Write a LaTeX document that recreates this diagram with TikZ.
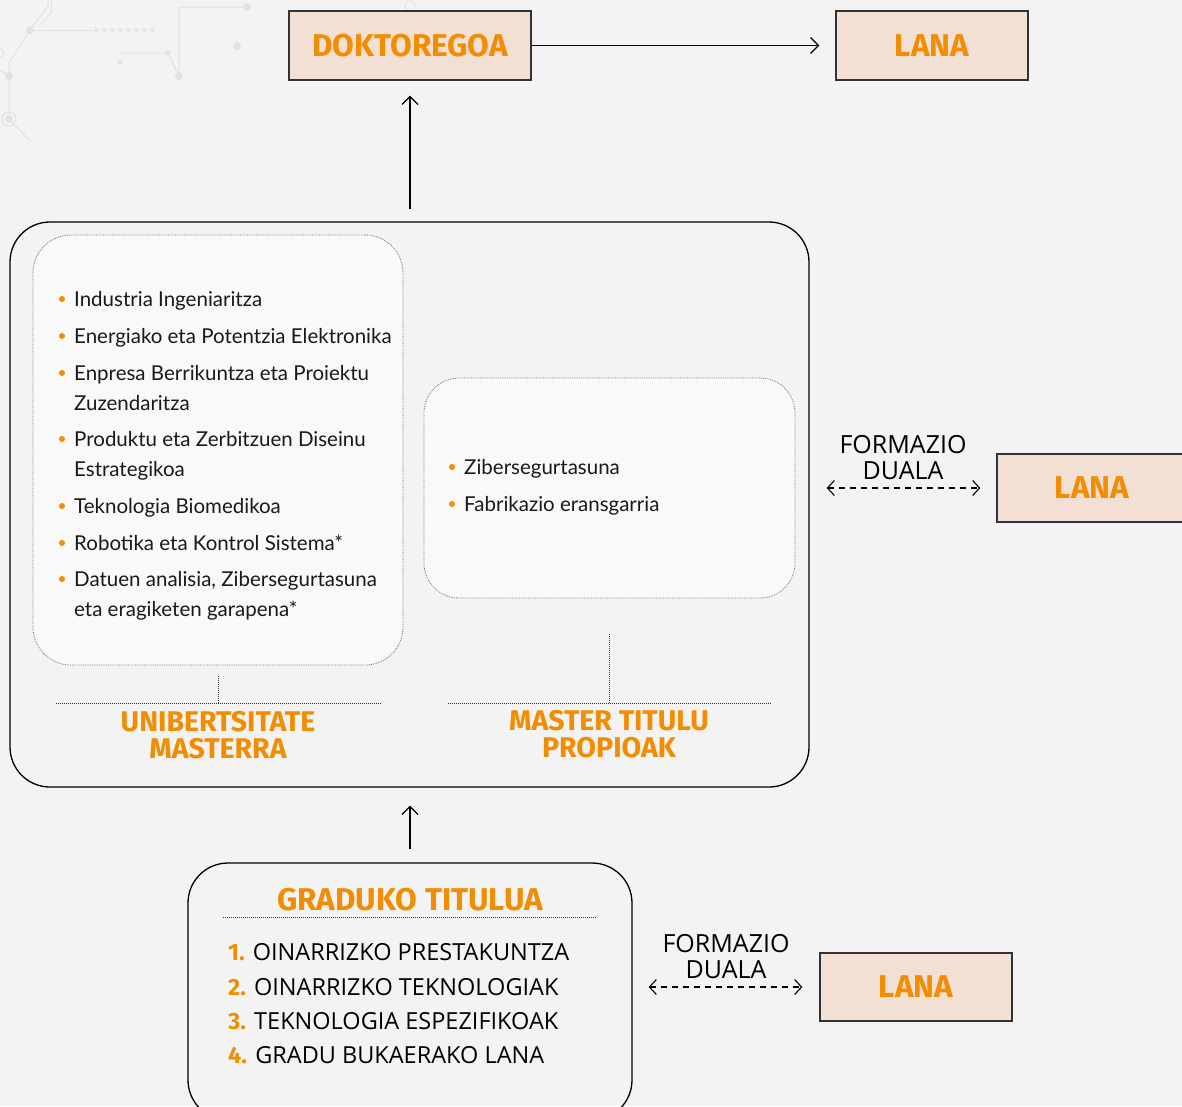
\documentclass[tikz,border=0pt]{standalone}
\usepackage{fontspec}
\setmainfont{Lato}
\newfontfamily\titlefont{Fira Sans}
\newfontfamily\capfont{Open Sans}
\usetikzlibrary{arrows.meta}
\definecolor{bg}{HTML}{F3F3F3}
\definecolor{orng}{HTML}{F28C00}
\definecolor{peach}{HTML}{F2E0D4}
\definecolor{deco}{HTML}{E2E2E2}
\definecolor{innerfill}{HTML}{F9F9F9}
\begin{document}
\begin{tikzpicture}[x=1pt,y=-1pt,
  lanabox/.style={draw=black!80, line width=1.3pt, fill=peach, minimum width=192pt, minimum height=68pt, inner sep=0pt, font=\titlefont\bfseries\fontsize{31.5}{33}\selectfont, text=orng},
  arr/.style={line width=1.2pt, -{Straight Barb[length=8pt,width=16pt,line width=1.2pt]}},
  darr/.style={line width=1.1pt, dash pattern=on 6pt off 5pt, {Straight Barb[length=7pt,width=15pt,line width=1.1pt]}-{Straight Barb[length=7pt,width=15pt,line width=1.1pt]}},
  bigbox/.style={draw=black, line width=1.3pt, rounded corners=40pt, inner sep=0pt},
  innerbox/.style={draw=black!55, densely dotted, line width=0.8pt, fill=innerfill, rounded corners=38pt, inner sep=0pt},
  dotline/.style={draw=black!80, densely dotted, line width=1pt},
  item/.style={anchor=base west, inner sep=0pt, font=\fontsize{20.5}{24}\selectfont, text=black!90},
  bul/.style={circle, fill=orng, inner sep=0pt, minimum size=6pt},
  otitle/.style={align=center, inner sep=0pt, text=orng, font=\titlefont\bfseries\fontsize{28.5}{27}\selectfont},
  dual/.style={align=center, inner sep=0pt, font=\capfont\fontsize{25}{26}\selectfont},
  glist/.style={anchor=base west, inner sep=0pt, font=\capfont\fontsize{23.5}{26}\selectfont},
  decoline/.style={draw=deco, line width=1pt},
  decodot/.style={fill=deco}
]
\useasboundingbox (0,0) rectangle (1182,1106);
\fill[bg] (0,0) rectangle (1182,1106);

% background decoration
\draw[decoline] (51,0) -- (51,13) -- (40,25);
\draw[decoline] (48,0) -- (48,6) -- (30,30) -- (9,63) -- (9,76) -- (9,119) -- (31,142);
\draw[decoline] (0,70) -- (9,76);
\draw[decoline] (30,30) -- (93,30);
\foreach \i in {0,...,7} \fill[deco] (95+8*\i,27) -- (99+8*\i,30) -- (95+8*\i,33) -- cycle;
\fill[decodot] (30,30) circle (4pt);
\fill[decodot] (9,76) circle (4pt);
\draw[decoline] (9,119) circle (7pt);
\fill[decodot] (9,119) circle (4pt);
\draw[decoline] (0,53) circle (4pt);
\draw[decoline] (120,53) -- (168,53) -- (179,76) -- (179,7) -- (247,7);
\fill[decodot] (168,53) circle (2.5pt);
\fill[decodot] (179,76) circle (4pt);
\fill[decodot] (247,7) circle (4pt);
\fill[decodot] (120,62) circle (2.5pt);
\fill[decodot] (237,46) circle (4pt);
\draw[decoline] (410,6) circle (5pt);
\draw[decoline] (406,11) -- (388,28);

% top row
\node[lanabox, minimum width=242pt, minimum height=69pt] (dok) at (410,45.5) {DOKTOREGOA};
\node[lanabox, minimum height=69pt] (lanatop) at (932,45.5) {LANA};
\draw[arr, shorten >=16pt] (dok.east) -- (lanatop.west);

% big box
\node[bigbox, minimum width=799pt, minimum height=565pt] (big) at (409.5,504.5) {};
\draw[arr, shorten <=12pt, shorten >=15pt] (big.north -| dok.south) -- (dok.south);

% inner boxes
\node[innerbox, minimum width=370pt, minimum height=430pt] (leftbox) at (218,450) {};
\node[innerbox, minimum width=371pt, minimum height=220pt, rounded corners=35pt] (rightbox) at (609.5,488) {};

% left list
\node[bul] (b1) at (62,299) {};
\node[item] (t1) at (74,306) {Industria Ingeniaritza};
\node[bul] (b2) at (62,336) {};
\node[item] (t2) at (74,343) {Energiako eta Potentzia Elektronika};
\node[bul] (b3) at (62,373) {};
\node[item] (t3) at (74,380) {Enpresa Berrikuntza eta Proiektu};
\node[item] (t3b) at (74,410) {Zuzendaritza};
\node[bul] (b4) at (62,439) {};
\node[item] (t4) at (74,446) {Produktu eta Zerbitzuen Diseinu};
\node[item] (t4b) at (74,476) {Estrategikoa};
\node[bul] (b5) at (62,506) {};
\node[item] (t5) at (74,513) {Teknologia Biomedikoa};
\node[bul] (b6) at (62,543) {};
\node[item] (t6) at (74,550) {Robotika eta Kontrol Sistema*};
\node[bul] (b7) at (62,579) {};
\node[item] (t7) at (74,586) {Datuen analisia, Zibersegurtasuna};
\node[item] (t7b) at (74,616) {eta eragiketen garapena*};

% right list
\node[bul] (r1) at (452,467) {};
\node[item] (s1) at (464,474) {Zibersegurtasuna};
\node[bul] (r2) at (452,504) {};
\node[item] (s2) at (464,511) {Fabrikazio eransgarria};

% dotted connectors and labels
\coordinate (ul) at (56,703);
\coordinate (ur) at (381,703);
\coordinate (ml) at (448,703);
\coordinate (mr) at (772,703);
\draw[dotline] (ul) -- (ur);
\draw[dotline] (ml) -- (mr);
\draw[dotline, shorten <=11pt] (leftbox.south) -- (leftbox.south |- ul);
\draw[dotline, shorten <=36pt] (rightbox.south) -- (rightbox.south |- ml);
\node[otitle] (unib) at (218,735) {UNIBERTSITATE\\MASTERRA};
\node[otitle] (mtit) at (609,734) {MASTER TITULU\\PROPIOAK};

% middle right
\node[lanabox, minimum width=190pt] (lanamid) at (1092,488) {LANA};
\draw[darr, shorten <=17pt, shorten >=16pt] (lanamid.west -| big.east) -- (lanamid.west)
  node[dual, midway, above=8pt] (fd1) {FORMAZIO\\DUALA};

% bottom box
\node[bigbox, minimum width=444pt, minimum height=257pt] (grad) at (410,991.5) {};
\draw[arr, shorten <=13pt, shorten >=18pt] (grad.north) -- (grad.north |- big.south);
\node[otitle, font=\titlefont\bfseries\fontsize{31.5}{32}\selectfont] (gtit) at (410,900) {GRADUKO TITULUA};
\coordinate (gl) at (223,917);
\coordinate (gr) at (597,917);
\draw[dotline] (gl) -- (gr);
\node[glist] (g1) at (228,960) {{\titlefont\bfseries\color{orng}1.} OINARRIZKO PRESTAKUNTZA};
\node[glist] (g2) at (228,995) {{\titlefont\bfseries\color{orng}2.} OINARRIZKO TEKNOLOGIAK};
\node[glist] (g3) at (228,1029) {{\titlefont\bfseries\color{orng}3.} TEKNOLOGIA ESPEZIFIKOAK};
\node[glist] (g4) at (228,1063) {{\titlefont\bfseries\color{orng}4.} GRADU BUKAERAKO LANA};

\node[lanabox] (lanabot) at (916,987) {LANA};
\draw[darr, shorten <=16pt, shorten >=17pt] (lanabot.west -| grad.east) -- (lanabot.west)
  node[dual, midway, above=8pt] (fd2) {FORMAZIO\\DUALA};
\end{tikzpicture}
\end{document}
